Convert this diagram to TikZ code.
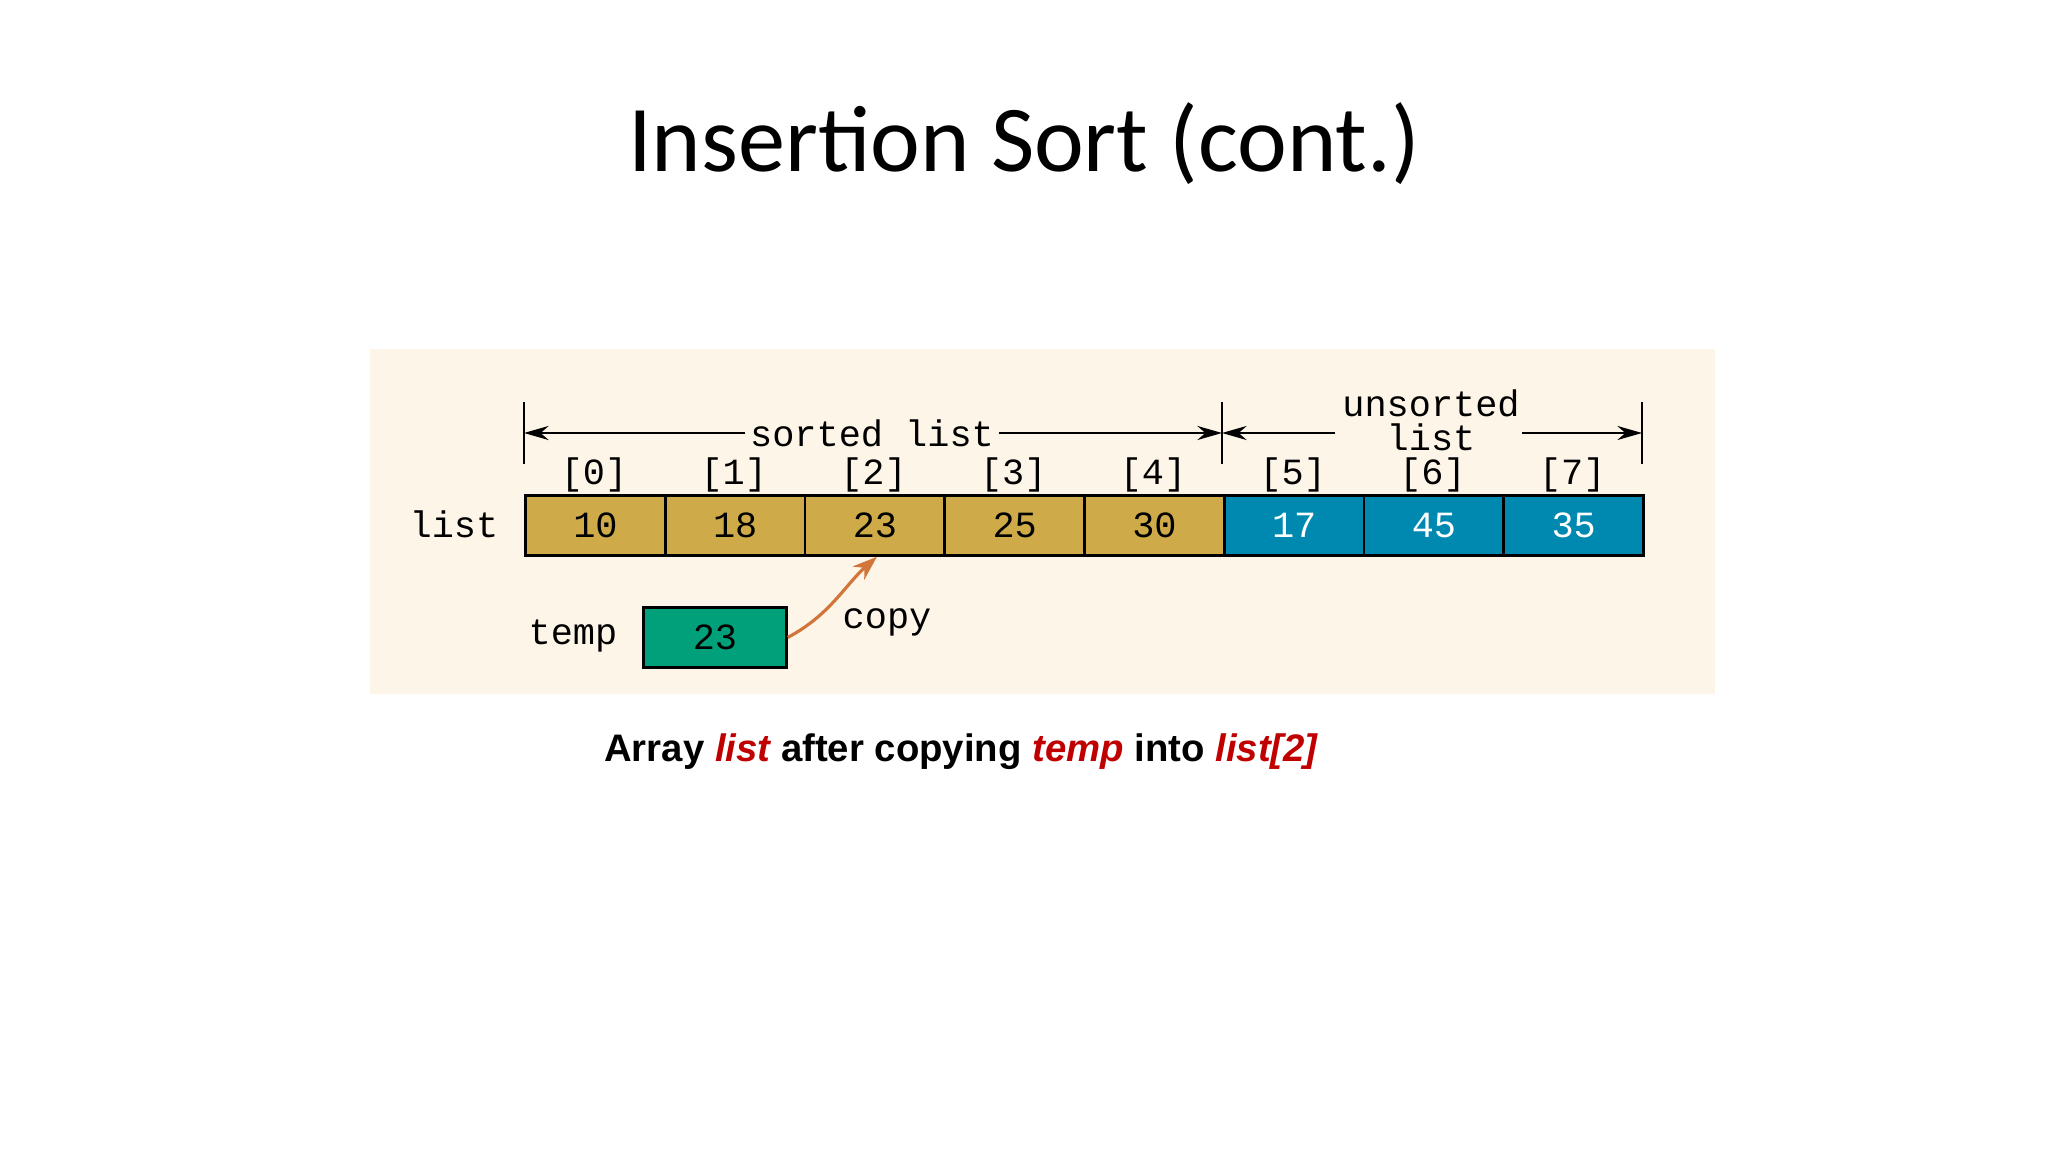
\documentclass[tikz,border=0pt]{standalone}
\usepackage{fontspec}
\setmainfont{Carlito}
\newfontfamily\monof{Liberation Mono}
\newfontfamily\arialf{Liberation Sans}
\usetikzlibrary{arrows.meta}
\definecolor{panel}{RGB}{253,245,232}
\definecolor{gold}{RGB}{206,170,72}
\definecolor{tealblue}{RGB}{0,137,176}
\definecolor{tgreen}{RGB}{0,160,122}
\definecolor{copyc}{RGB}{210,117,58}
\definecolor{capred}{RGB}{192,0,0}
\begin{document}
\begin{tikzpicture}[x=0.01cm,y=-0.01cm,
  cell/.style={draw=black,line width=0.8pt,minimum width=140*0.01cm,minimum height=60*0.01cm,inner sep=0,anchor=north west,font=\monof\fontsize{10.5}{12}\selectfont},
  mono/.style={font=\monof\fontsize{10.5}{12}\selectfont,inner sep=0pt},
  dim/.style={line width=0.6pt,-{Stealth[length=7pt,width=4pt]}}]
\useasboundingbox (0,0) rectangle (2048,1152);
\fill[panel] (370,349) rectangle (1715,694);
\node[font=\fontsize{26.8}{32}\selectfont] (title) at (1024,144) {Insertion Sort (cont.)};
% cells
\foreach \i/\v in {0/10,1/18,2/23,3/25,4/30}{
  \node[cell,fill=gold] (c\i) at (524+139.75*\i,494) {\v};}
\foreach \i/\v in {5/17,6/45,7/35}{
  \node[cell,fill=tealblue,text=white] (c\i) at (524+139.75*\i,494) {\v};}
\foreach \i in {0,...,7}{
  \node[mono] (i\i) at (594+139.75*\i,475) {[\i]};}
\node[mono] (lbl) at (454,524) {list};
% ticks
\coordinate (t0) at (524,402); \coordinate (t0b) at (524,464);
\coordinate (t1) at (1222,402); \coordinate (t1b) at (1222,464);
\coordinate (t2) at (1642,402); \coordinate (t2b) at (1642,464);
\draw[line width=0.6pt] (t0)--(t0b) (t1)--(t1b) (t2)--(t2b);
\node[mono] (sl) at (872,433) {sorted list};
\node[mono] (us) at (1431,403) {unsorted};
\node[mono] (ul) at (1431,437) {list};
\coordinate (a0) at (524,433); \coordinate (a1) at (1222,433); \coordinate (a2) at (1642,433);
\coordinate (b1) at (1335,433); \coordinate (b2) at (1522,433);
\draw[dim] ([xshift=-4*0.01cm]sl.west) -- (a0);
\draw[dim] ([xshift=4*0.01cm]sl.east) -- (a1);
\draw[dim] (b1) -- (a1);
\draw[dim] (b2) -- (a2);
% temp
\node[cell,fill=tgreen,minimum width=143*0.01cm] (tmp) at (642,606) {23};
\node[mono] (tl) at (573,636) {temp};
\node[mono] (cp) at (887,622) {copy};
\draw[copyc,line width=0.9pt,-{Stealth[length=7pt,width=5pt]}] (tmp.east) .. controls (830,615) and (845,585) .. ([xshift=2*0.01cm]c2.south);
% caption
\node[font=\arialf\bfseries\fontsize{10.9}{13}\selectfont] (cap) at (961,752) {Array \textcolor{capred}{\itshape list} after copying \textcolor{capred}{\itshape temp} into \textcolor{capred}{\itshape list[2]}};
\end{tikzpicture}
\end{document}
